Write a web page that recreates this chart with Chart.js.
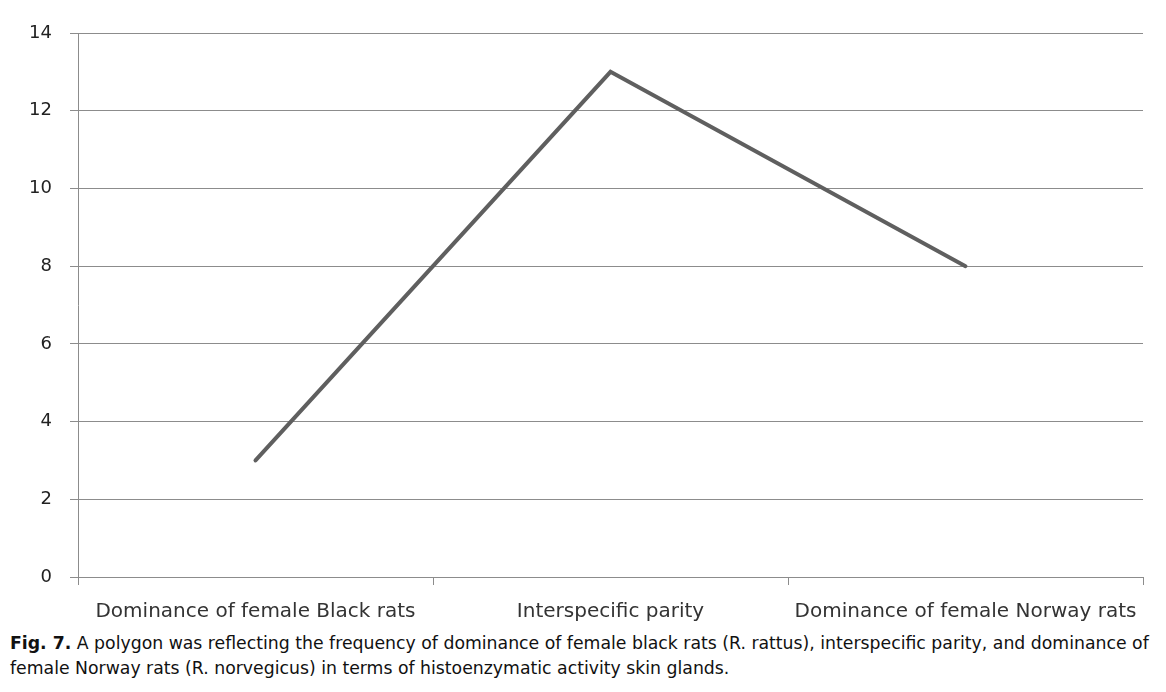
<!DOCTYPE html>
<html>
<head>
<meta charset="utf-8">
<script src="https://cdn.jsdelivr.net/npm/chart.js@4/dist/chart.umd.min.js"></script>
<style>
  body { margin: 0; background: #fff; width: 1166px; height: 692px; overflow: hidden; position: relative; }
  #wrap { position: absolute; left: 0; top: 0; width: 1166px; height: 630px; }
  #caption { position: absolute; left: 10px; top: 631px; width: 1150px; font-family: "DejaVu Sans", sans-serif; font-size: 17.3px; line-height: 25px; color: #111; white-space: nowrap; }
</style>
</head>
<body>
<div id="wrap"><canvas id="polygonChart"></canvas></div>
<div id="caption"><b>Fig. 7.</b> A polygon was reflecting the frequency of dominance of female black rats (R. rattus), interspecific parity, and dominance of<br>female Norway rats (R. norvegicus) in terms of histoenzymatic activity skin glands.</div>
<script>
// categories and values
const categories = ["Dominance of female Black rats", "Interspecific parity", "Dominance of female Norway rats"];
const frequency = [3, 13, 8];
const yTicks = [0, 2, 4, 6, 8, 10, 12, 14];

document.addEventListener("DOMContentLoaded", () => {
  const ctx = document.getElementById("polygonChart").getContext("2d");
  new Chart(ctx, {
    type: "line",
    data: {
      labels: categories,
      datasets: [
        {
          data: frequency,
          borderColor: "#5f5f5f",
          borderWidth: 4,
          borderCapStyle: "round",
          pointRadius: 0,
          tension: 0,
          fill: false,
        },
      ],
    },
    options: {
      responsive: true,
      maintainAspectRatio: false,
      animation: false,
      layout: { padding: { top: 33, right: 23, left: 0, bottom: 0 } },
      plugins: { legend: { display: false }, tooltip: { enabled: false } },
      scales: {
        x: {
          offset: true,
          grid: { offset: true, drawOnChartArea: false, tickLength: 8, color: "#8c8c8c" },
          border: { color: "#8c8c8c" },
          ticks: { color: "#333", font: { family: "DejaVu Sans", size: 20 }, padding: 15, maxRotation: 0 },
          afterFit: (s) => { s.height = 53; },
        },
        y: {
          min: 0,
          max: 14,
          afterBuildTicks: (s) => { s.ticks = yTicks.map((v) => ({ value: v })); },
          grid: { tickLength: 8, color: "#8c8c8c" },
          border: { color: "#8c8c8c" },
          ticks: { color: "#222", font: { family: "DejaVu Sans", size: 18 }, padding: 18 },
          afterFit: (s) => { s.width = 78; },
        },
      },
    },
  });
});
</script>
</body>
</html>
